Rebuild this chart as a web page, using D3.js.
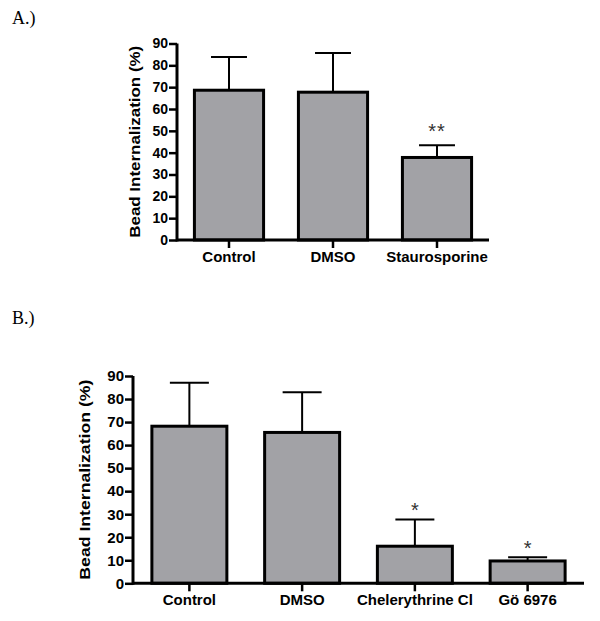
<!DOCTYPE html>
<html>
<head>
<meta charset="utf-8">
<script src="https://cdnjs.cloudflare.com/ajax/libs/d3/7.8.5/d3.min.js"></script>
<style>
body { margin: 0; background: #fff; }
svg { display: block; }
</style>
</head>
<body>
<script>
// Panel A data
const categoriesA = ["Control", "DMSO", "Staurosporine"];
const meansA = [68.6, 67.7, 37.8];
const errorsA = [15.2, 18.0, 5.6];
const sigA = ["", "", "**"];

// Panel B data
const categoriesB = ["Control", "DMSO", "Chelerythrine Cl", "Gö 6976"];
const meansB = [68.2, 65.5, 16.1, 9.7];
const errorsB = [18.9, 17.4, 11.6, 1.6];
const sigB = ["", "", "*", "*"];

const yTicks = [0, 10, 20, 30, 40, 50, 60, 70, 80, 90];
const yLabel = "Bead Internalization (%)";

const W = 600, H = 621;
const svg = d3.select("body").append("svg").attr("width", W).attr("height", H);

const fontSans = "'Liberation Sans', Arial, Helvetica, sans-serif";

function panel(opts) {
  const { cats, means, errs, sig, x0, x1, y0, y1, tickFont, catFont, labelX, labelLen, tag, tagY, starGap } = opts;
  const g = svg.append("g");
  const x = d3.scaleBand().domain(cats).range([x0, x1]).paddingInner(0.335).paddingOuter(0.1675);
  const y = d3.scaleLinear().domain([0, 90]).range([y0, y1]);

  // bars
  g.selectAll("rect.bar").data(cats).enter().append("rect")
    .attr("x", d => x(d))
    .attr("y", (d, i) => y(means[i]))
    .attr("width", x.bandwidth())
    .attr("height", (d, i) => y(0) - y(means[i]))
    .attr("fill", "#a2a2a6")
    .attr("stroke", "#000")
    .attr("stroke-width", 3);

  // error bars
  const capW = x.bandwidth() * 0.52;
  cats.forEach((c, i) => {
    const cx = x(c) + x.bandwidth() / 2;
    g.append("line").attr("x1", cx).attr("x2", cx)
      .attr("y1", y(means[i])).attr("y2", y(means[i] + errs[i]))
      .attr("stroke", "#000").attr("stroke-width", 2);
    g.append("line").attr("x1", cx - capW / 2).attr("x2", cx + capW / 2)
      .attr("y1", y(means[i] + errs[i])).attr("y2", y(means[i] + errs[i]))
      .attr("stroke", "#000").attr("stroke-width", 2);
    if (sig[i]) {
      g.append("text").attr("x", cx).attr("y", y(means[i] + errs[i]) - starGap)
        .attr("text-anchor", "middle")
        .attr("dominant-baseline", "central")
        .attr("font-family", fontSans).attr("font-size", 20)
        .attr("letter-spacing", sig[i].length > 1 ? 1 : 0)
        .attr("fill", "#333")
        .text(sig[i]);
    }
  });

  // y axis
  const yAxis = d3.axisLeft(y).tickValues(yTicks).tickSize(8).tickPadding(1).tickSizeOuter(0);
  const ya = g.append("g").attr("transform", `translate(${x0},0)`).call(yAxis);
  ya.select(".domain").attr("stroke-width", 3).attr("d", `M0,${y0 + 1.5}V${y1}`);
  ya.selectAll(".tick line").attr("stroke-width", 2.5);
  ya.selectAll(".tick text").attr("font-family", fontSans).attr("font-weight", "bold")
    .attr("font-size", tickFont).attr("fill", "#000");

  // x axis
  const xAxis = d3.axisBottom(x).tickSize(8).tickPadding(3).tickSizeOuter(0);
  const xa = g.append("g").attr("transform", `translate(0,${y0})`).call(xAxis);
  xa.select(".domain").attr("stroke-width", 3).attr("d", `M${x0},0H${x1}`);
  xa.selectAll(".tick line").attr("stroke-width", 2.5);
  xa.selectAll(".tick text").attr("font-family", fontSans).attr("font-weight", "bold")
    .attr("font-size", catFont).attr("fill", "#000");

  // y label
  g.append("text")
    .attr("transform", `translate(${labelX},${(y0 + y1) / 2}) rotate(-90)`)
    .attr("text-anchor", "middle")
    .attr("dominant-baseline", "central")
    .attr("font-family", fontSans).attr("font-weight", "bold").attr("font-size", 15)
    .attr("textLength", labelLen).attr("lengthAdjust", "spacingAndGlyphs")
    .text(yLabel);

  // panel tag
  svg.append("text").attr("x", 12).attr("y", tagY)
    .attr("font-family", "'Liberation Serif', 'Times New Roman', serif")
    .attr("font-size", 18).attr("fill", "#000")
    .text(tag);
}

panel({ cats: categoriesA, means: meansA, errs: errorsA, sig: sigA,
  x0: 177, x1: 489, y0: 240, y1: 43.5, tickFont: 14, catFont: 15,
  labelX: 134, labelLen: 192, tag: "A.)", tagY: 24, starGap: 14 });

panel({ cats: categoriesB, means: meansB, errs: errorsB, sig: sigB,
  x0: 133, x1: 584, y0: 583.3, y1: 376, tickFont: 15, catFont: 15,
  labelX: 84.5, labelLen: 200, tag: "B.)", tagY: 324, starGap: 9 });
</script>
</body>
</html>
